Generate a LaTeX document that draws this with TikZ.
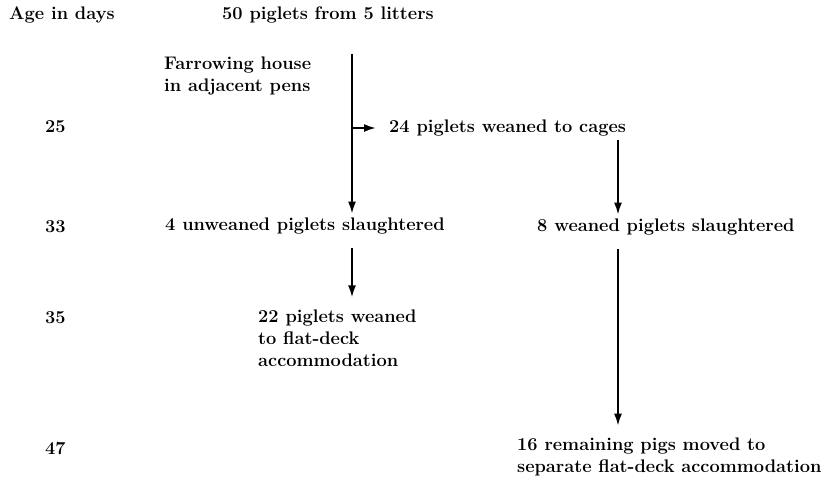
\documentclass[tikz,border=0pt]{standalone}
\usetikzlibrary{arrows.meta}

\begin{document}
\begin{tikzpicture}[
		textLabel/.style={anchor=west, inner sep=0pt, align=left, font=\fontsize{18.2}{22}\selectfont\bfseries},
		flowArrow/.style={-{Latex[length=12pt, width=8pt]}, line width=2pt, shorten <=4pt, shorten >=4pt},
		longArrow/.style={flowArrow, shorten <=14pt, shorten >=12pt}
	]
					\useasboundingbox (0pt, 0pt) rectangle (830pt, -482pt);

					\coordinate (colLeft) at (352pt, 0pt);
					\coordinate (colRight) at (618pt, 0pt);

					\node[textLabel] (ageHead) at (9pt, -15pt) {Age in days};
					\node[textLabel] (litters) at (222pt, -15pt) {50 piglets from 5 litters};
					\node[textLabel] (farrowing) at (164pt, -76pt) {Farrowing house\\in adjacent pens};

					\node[textLabel] (day25) at (45pt, -127pt) {25};
					\node[textLabel] (cages) at (389pt, -128pt) {24 piglets weaned to cages};

					\node[textLabel] (day33) at (45pt, -227pt) {33};
					\node[textLabel] (unweaned) at (165pt, -226pt) {4 unweaned piglets slaughtered};
					\node[textLabel] (weaned) at (537pt, -227pt) {8 weaned piglets slaughtered};

					\node[textLabel] (day35) at (45pt, -318pt) {35};
					\node[textLabel] (flatDeck) at (258pt, -338pt) {22 piglets weaned\\to flat-deck\\accommodation};

					\node[textLabel] (day47) at (45pt, -448pt) {47};
					\node[textLabel] (remaining) at (517pt, -457pt) {16 remaining pigs moved to\\separate flat-deck accommodation};

					\draw[flowArrow, shorten <=-3pt] (farrowing.north -| colLeft) -- (unweaned.north -| colLeft);
					\draw[flowArrow, shorten <=0pt, shorten >=13pt] (cages.west -| colLeft) -- (cages.west);
					\draw[flowArrow] (cages.south -| colRight) -- (weaned.north -| colRight);
					\draw[longArrow] (unweaned.south -| colLeft) -- (flatDeck.north -| colLeft);
					\draw[longArrow] (weaned.south -| colRight) -- (remaining.north -| colRight);
\end{tikzpicture}
\end{document}
